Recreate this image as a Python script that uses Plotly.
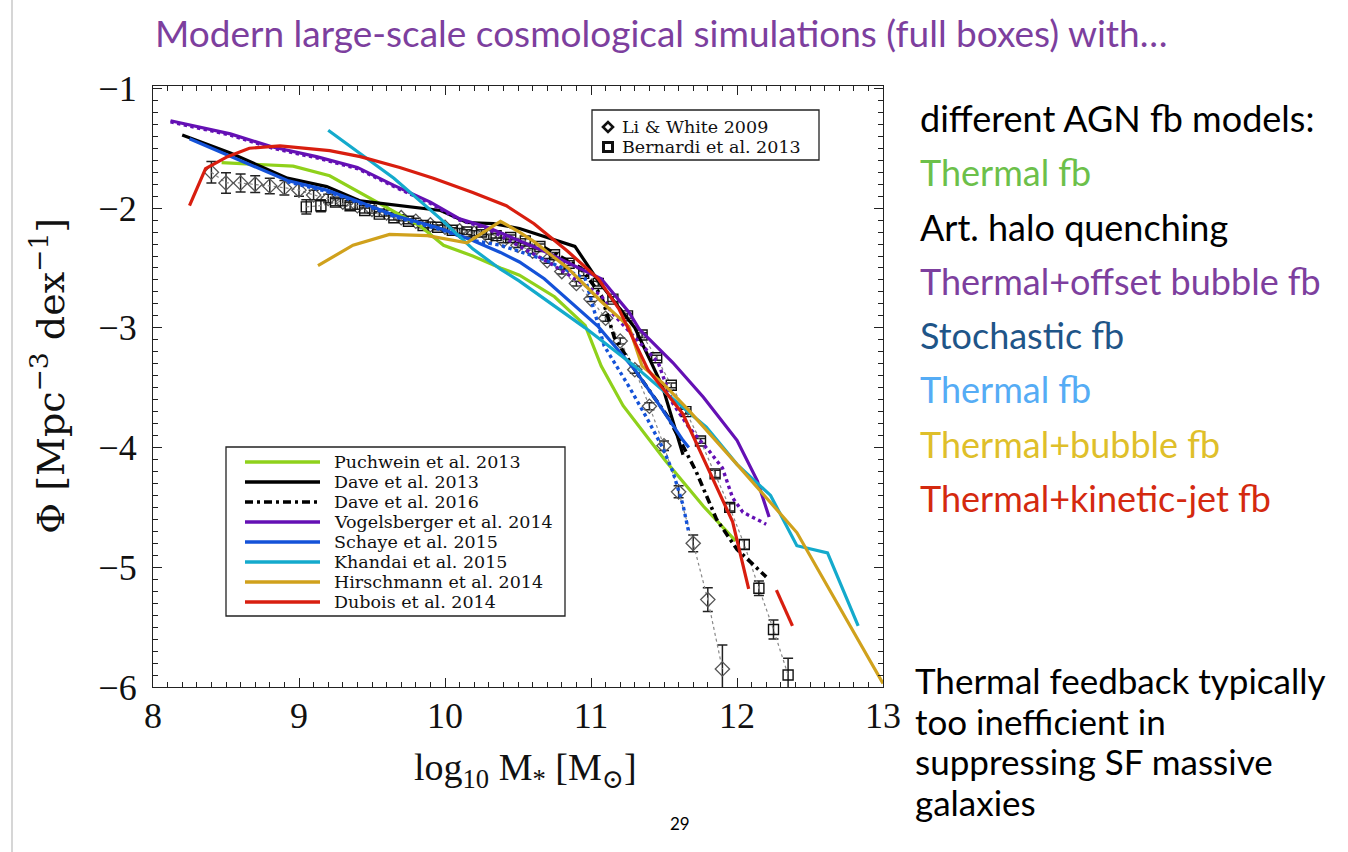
import plotly.graph_objects as go

# ---------------- simulation curves: log10 M*  vs  log10 Phi ----------------
puchwein_x = [8.47, 8.96, 9.21, 9.42, 9.62, 9.83, 9.99, 10.19, 10.38, 10.51, 10.75, 10.96, 11.07, 11.22, 11.51, 11.77, 11.99]
puchwein_y = [-1.62, -1.65, -1.73, -1.87, -2.01, -2.15, -2.31, -2.40, -2.50, -2.56, -2.74, -2.98, -3.32, -3.65, -4.11, -4.49, -4.78]

dave13_x = [8.20, 8.53, 8.92, 9.19, 9.42, 9.69, 9.97, 10.15, 10.33, 10.51, 10.89, 11.05, 11.30, 11.49, 11.63]
dave13_y = [-1.39, -1.54, -1.75, -1.82, -1.94, -1.98, -2.02, -2.12, -2.13, -2.17, -2.32, -2.61, -3.00, -3.49, -4.06]

dave16_x = [10.68, 10.93, 11.07, 11.16, 11.30, 11.53, 11.72, 11.86, 12.00, 12.20]
dave16_y = [-2.33, -2.50, -2.73, -3.08, -3.35, -3.75, -4.20, -4.60, -4.85, -5.08]

vogel_x = [8.12, 8.53, 8.82, 9.12, 9.40, 9.65, 9.90, 10.10, 10.29, 10.68, 11.07, 11.26, 11.33, 11.56, 11.77, 12.00, 12.14, 12.22]
vogel_y = [-1.27, -1.38, -1.49, -1.57, -1.66, -1.81, -1.95, -2.09, -2.16, -2.36, -2.59, -2.87, -3.01, -3.29, -3.58, -3.94, -4.28, -4.58]

vogel_alt_x = [8.12, 8.53, 8.82, 9.12, 9.40, 9.65, 9.90, 10.10, 10.29, 10.72, 11.07, 11.14, 11.46, 11.56, 11.67, 11.81, 11.90, 11.97, 12.04, 12.20]
vogel_alt_y = [-1.28, -1.39, -1.50, -1.58, -1.67, -1.82, -1.96, -2.10, -2.17, -2.46, -2.73, -2.87, -3.29, -3.63, -3.83, -4.03, -4.17, -4.42, -4.54, -4.64]

schaye_x = [8.25, 8.57, 8.92, 9.19, 9.42, 9.65, 9.97, 10.19, 10.38, 10.51, 10.68, 11.05, 11.30, 11.46, 11.63, 11.67]
schaye_y = [-1.42, -1.59, -1.77, -1.85, -1.95, -2.06, -2.17, -2.27, -2.37, -2.45, -2.59, -2.99, -3.35, -3.63, -3.94, -4.00]

schaye_alt_x = [8.92, 9.19, 9.42, 9.65, 9.97, 10.19, 10.38, 10.68, 10.96, 11.09, 11.26, 11.39, 11.49, 11.56, 11.63, 11.67]
schaye_alt_y = [-1.78, -1.86, -1.96, -2.07, -2.18, -2.27, -2.31, -2.43, -2.59, -3.15, -3.49, -3.77, -4.00, -4.20, -4.48, -4.71]

khandai_x = [9.20, 9.65, 9.97, 10.19, 10.38, 10.51, 10.96, 11.30, 11.49, 11.79, 12.00, 12.23, 12.41, 12.62, 12.83]
khandai_y = [-1.35, -1.75, -2.09, -2.34, -2.51, -2.61, -3.00, -3.32, -3.52, -3.83, -4.14, -4.40, -4.82, -4.88, -5.49]

hirsch_x = [9.13, 9.37, 9.62, 9.88, 10.15, 10.38, 10.51, 10.61, 10.84, 11.07, 11.26, 11.35, 11.49, 11.67, 12.00, 12.41, 13.00]
hirsch_y = [-2.48, -2.31, -2.22, -2.23, -2.29, -2.11, -2.20, -2.28, -2.50, -2.78, -2.99, -3.32, -3.46, -3.69, -4.14, -4.71, -5.97]

dubois_x = [8.25, 8.36, 8.51, 8.66, 8.87, 9.21, 9.42, 9.69, 9.92, 10.19, 10.42, 10.61, 10.84, 11.05, 11.19, 11.28, 11.39, 11.63, 11.77, 11.97, 12.08]
dubois_y = [-1.98, -1.67, -1.57, -1.50, -1.48, -1.52, -1.57, -1.66, -1.75, -1.87, -1.98, -2.13, -2.36, -2.59, -2.84, -3.07, -3.35, -3.72, -4.09, -4.62, -5.18]

dubois_tail_x = [12.27, 12.38]
dubois_tail_y = [-5.19, -5.49]

# ---------------- observations ----------------
liwhite_x = [8.4, 8.5, 8.6, 8.7, 8.8, 8.9, 9.0, 9.1, 9.2, 9.3, 9.4, 9.5, 9.6, 9.7, 9.8, 9.9,
             10.0, 10.1, 10.2, 10.3, 10.4, 10.5, 10.6, 10.7, 10.8, 10.9, 11.0, 11.1, 11.2,
             11.3, 11.4, 11.5, 11.6, 11.7, 11.8, 11.9]
liwhite_y = [-1.70, -1.79, -1.79, -1.80, -1.815, -1.83, -1.85, -1.89, -1.92, -1.95, -1.98, -2.01,
             -2.04, -2.08, -2.11, -2.14, -2.16, -2.19, -2.21, -2.24, -2.27, -2.31, -2.36, -2.44,
             -2.53, -2.63, -2.76, -2.92, -3.11, -3.35, -3.655, -3.985, -4.37, -4.80, -5.27, -5.85]
liwhite_err = [0.09, 0.085, 0.075, 0.07, 0.065, 0.06, 0.05, 0.04, 0.035, 0.03, 0.03, 0.03,
               0.025, 0.025, 0.025, 0.025, 0.02, 0.02, 0.02, 0.02, 0.02, 0.02, 0.02, 0.02,
               0.02, 0.02, 0.02, 0.025, 0.025, 0.03, 0.03, 0.04, 0.05, 0.07, 0.10, 0.20]

bernardi_x = [9.05, 9.15, 9.25, 9.35, 9.45, 9.55, 9.65, 9.75, 9.85, 9.95, 10.05, 10.15, 10.25,
              10.35, 10.45, 10.55, 10.65, 10.75, 10.85, 10.95, 11.05, 11.15, 11.25, 11.35,
              11.45, 11.55, 11.65, 11.75, 11.85, 11.95, 12.05, 12.15, 12.25, 12.35]
bernardi_y = [-1.99, -1.98, -1.95, -1.98, -2.02, -2.05, -2.08, -2.11, -2.145, -2.16, -2.185, -2.20,
              -2.20, -2.23, -2.245, -2.275, -2.32, -2.39, -2.46, -2.545, -2.63, -2.76, -2.90,
              -3.06, -3.25, -3.48, -3.70, -3.945, -4.22, -4.50, -4.81, -5.175, -5.52, -5.90]
bernardi_err = [0.06, 0.05, 0.03, 0.03, 0.02, 0.02, 0.02, 0.02, 0.02, 0.02, 0.02, 0.02, 0.02,
                0.02, 0.02, 0.02, 0.02, 0.02, 0.02, 0.02, 0.02, 0.02, 0.02, 0.02, 0.02, 0.02,
                0.02, 0.02, 0.03, 0.03, 0.04, 0.06, 0.08, 0.14]

legend_names = ["Puchwein et al. 2013", "Dave et al. 2013", "Dave et al. 2016",
                "Vogelsberger et al. 2014", "Schaye et al. 2015", "Khandai et al. 2015",
                "Hirschmann et al. 2014", "Dubois et al. 2014"]
legend_colors = ["#8fd11b", "#000000", "#000000", "#6410b4", "#1452d8", "#14aacc", "#d0a11c", "#d81e0f"]
legend_dash = ["solid", "solid", "8px,4px,3px,4px", "solid", "solid", "solid", "solid", "solid"]

obs_names = ["Li & White 2009", "Bernardi et al. 2013"]

model_lines = [
    ("different AGN fb models:", "#000000"),
    ("Thermal fb", "#6cc04a"),
    ("Art. halo quenching", "#000000"),
    ("Thermal+offset bubble fb", "#7d3f9e"),
    ("Stochastic fb", "#1f5588"),
    ("Thermal fb", "#55acf5"),
    ("Thermal+bubble fb", "#dfbf2a"),
    ("Thermal+kinetic-jet fb", "#d4290f"),
]
note_lines = ["Thermal feedback typically", "too inefficient in",
              "suppressing SF massive", "galaxies"]

W, H = 1348, 852
X0, X1 = 153, 883      # plot frame, px
Y0, Y1 = 86, 687

fig = go.Figure()

def line(x, y, color, dash="solid", width=3.2):
    fig.add_trace(go.Scatter(x=x, y=y, mode="lines", showlegend=False, hoverinfo="skip",
                             line=dict(color=color, width=width, dash=dash)))

# observational data first (underneath)
fig.add_trace(go.Scatter(x=liwhite_x, y=liwhite_y, mode="lines+markers", showlegend=False,
                         line=dict(color="#888888", width=1.2, dash="dot"),
                         marker=dict(symbol="diamond-open", size=11, color="#555555", line=dict(width=1.3)),
                         error_y=dict(type="data", array=liwhite_err, color="#222222", thickness=1.5, width=5)))
fig.add_trace(go.Scatter(x=bernardi_x, y=bernardi_y, mode="lines+markers", showlegend=False,
                         line=dict(color="#888888", width=1.2, dash="dot"),
                         marker=dict(symbol="square-open", size=10, color="#111111", line=dict(width=1.4)),
                         error_y=dict(type="data", array=bernardi_err, color="#222222", thickness=1.5, width=5)))

line(puchwein_x, puchwein_y, legend_colors[0])
line(dave13_x, dave13_y, "#000000")
line(dave16_x, dave16_y, "#000000", dash="8px,4px,3px,4px", width=3.6)
line(vogel_alt_x, vogel_alt_y, legend_colors[3], dash="dot", width=3.4)
line(vogel_x, vogel_y, legend_colors[3])
line(schaye_alt_x, schaye_alt_y, legend_colors[4], dash="dot", width=3.4)
line(schaye_x, schaye_y, legend_colors[4])
line(khandai_x, khandai_y, legend_colors[5])
line(hirsch_x, hirsch_y, legend_colors[6])
line(dubois_x, dubois_y, legend_colors[7])
line(dubois_tail_x, dubois_tail_y, legend_colors[7])

def px(x):
    return x / W

def py(y):
    return 1 - y / H

serif = "Liberation Serif, DejaVu Serif, serif"
slab = "DejaVu Serif, Liberation Serif, serif"
sans = "Lato, Open Sans, sans-serif"

shapes = []
annotations = []

# legend of simulations
shapes.append(dict(type="rect", xref="paper", yref="paper", x0=px(226), x1=px(565), y0=py(447), y1=py(616),
                   line=dict(color="#222222", width=1.3), fillcolor="white", layer="above"))
for i, (name, col, dsh) in enumerate(zip(legend_names, legend_colors, legend_dash)):
    yy = 462 + i * 20
    shapes.append(dict(type="line", xref="paper", yref="paper", x0=px(245), x1=px(320), y0=py(yy), y1=py(yy),
                       line=dict(color=col, width=3.6, dash=dsh), layer="above"))
    annotations.append(dict(text=name, xref="paper", yref="paper", x=px(332), y=py(yy), xanchor="left",
                            yanchor="middle", showarrow=False, font=dict(family=slab, size=17.5, color="#111111")))

# legend of observations
shapes.append(dict(type="rect", xref="paper", yref="paper", x0=px(592), x1=px(819), y0=py(110), y1=py(160),
                   line=dict(color="#222222", width=1.3), fillcolor="white", layer="above"))
dcx, dcy = 608, 127
shapes.append(dict(type="path", xref="paper", yref="paper", layer="above",
                   path=f"M {px(dcx-5)} {py(dcy)} L {px(dcx)} {py(dcy-5)} L {px(dcx+5)} {py(dcy)} L {px(dcx)} {py(dcy+5)} Z",
                   line=dict(color="#111111", width=2.6)))
scx, scy = 608, 147
shapes.append(dict(type="rect", xref="paper", yref="paper", x0=px(scx-4.5), x1=px(scx+4.5),
                   y0=py(scy+4.5), y1=py(scy-4.5), line=dict(color="#111111", width=3), layer="above"))
for i, name in enumerate(obs_names):
    annotations.append(dict(text=name, xref="paper", yref="paper", x=px(620), y=py(127 + 20 * i),
                            xanchor="left", yanchor="middle", showarrow=False,
                            font=dict(family=slab, size=17.5, color="#111111")))

# axis titles
annotations.append(dict(text="log<sub>10</sub> M<sub>*</sub> [M<sub>⊙</sub>]", xref="paper", yref="paper",
                        x=px(525), y=py(770), xanchor="center", yanchor="middle", showarrow=False,
                        font=dict(family=serif, size=38, color="#111111")))
annotations.append(dict(text="Φ [Mpc<sup>−3</sup> dex<sup>−1</sup>]", xref="paper", yref="paper",
                        x=px(48), y=py(376), xanchor="center", yanchor="middle", showarrow=False, textangle=-90,
                        font=dict(family=slab, size=38, color="#111111")))

# slide text
annotations.append(dict(text="Modern large-scale cosmological simulations (full boxes) with…", xref="paper",
                        yref="paper", x=px(661), y=py(33), xanchor="center", yanchor="middle", showarrow=False,
                        font=dict(family=sans, size=37, color="#7d3f9e")))
for i, (txt, col) in enumerate(model_lines):
    annotations.append(dict(text=txt, xref="paper", yref="paper", x=px(918), y=py(118 + 54.3 * i),
                            xanchor="left", yanchor="middle", showarrow=False,
                            font=dict(family=sans, size=36, color=col)))
for i, txt in enumerate(note_lines):
    annotations.append(dict(text=txt, xref="paper", yref="paper", x=px(913), y=py(680 + 40.5 * i),
                            xanchor="left", yanchor="middle", showarrow=False,
                            font=dict(family=sans, size=35, color="#000000")))
annotations.append(dict(text="29", xref="paper", yref="paper", x=px(680), y=py(823), xanchor="center",
                        yanchor="middle", showarrow=False, font=dict(family=sans, size=17, color="#000000")))

# slide edge
shapes.append(dict(type="line", xref="paper", yref="paper", x0=px(12), x1=px(12), y0=0, y1=1,
                   line=dict(color="#c8c8c8", width=1.5)))

axis_common = dict(showgrid=False, zeroline=False, showline=True, linecolor="#222222", linewidth=1.3,
                   mirror="allticks", ticks="inside", ticklen=9, tickwidth=1.2, tickcolor="#222222",
                   automargin=False,
                   tickfont=dict(family=serif, size=36, color="#111111"),
                   minor=dict(ticks="inside", ticklen=4.5, tickwidth=1, tickcolor="#222222", dtick=0.1))

fig.update_layout(
    width=W, height=H, margin=dict(l=0, r=0, t=0, b=0, autoexpand=False),
    paper_bgcolor="white", plot_bgcolor="white", showlegend=False,
    xaxis=dict(domain=[px(X0), px(X1)], range=[8, 13], dtick=1, tick0=8, ticklabelstandoff=-3, **axis_common),
    yaxis=dict(domain=[py(Y1), py(Y0)], range=[-6.0, -0.98], dtick=1, tick0=-6, ticklabelstandoff=8,
               **axis_common),
    shapes=shapes, annotations=annotations,
)

fig.write_html("out.html")
